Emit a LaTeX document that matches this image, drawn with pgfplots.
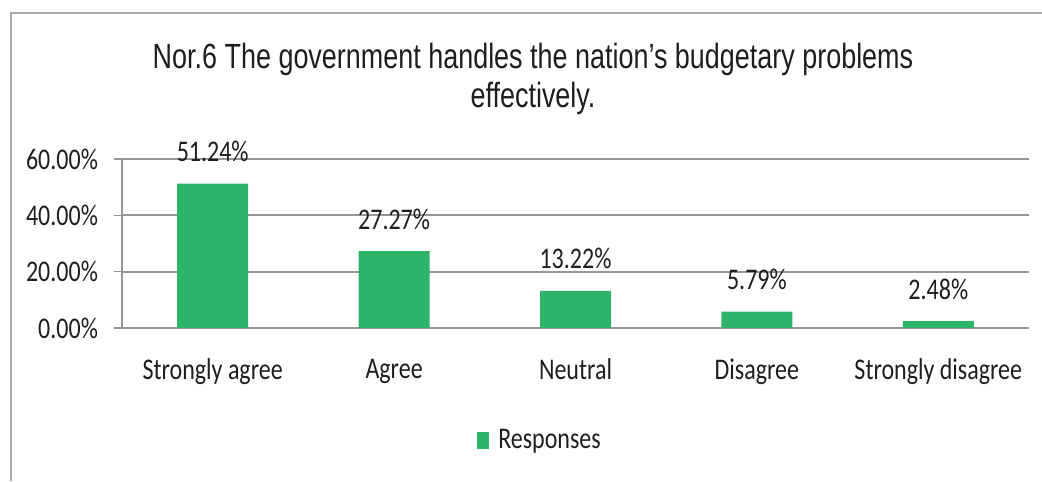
\documentclass[border=0pt]{standalone}
\usepackage{fontspec}
\setmainfont{Carlito}[FakeStretch=0.8]
\newfontfamily\titlefont{Liberation Sans}[FakeStretch=0.77]
\usepackage{pgfplots}
\pgfplotsset{compat=1.18}
\definecolor{bargreen}{RGB}{45,180,104}
\definecolor{gridgray}{RGB}{150,150,150}
\definecolor{txt}{RGB}{30,30,30}
\begin{document}
\begin{tikzpicture}
\path[use as bounding box] (0,0) rectangle (521pt,240.5pt);
\draw[gridgray!80, line width=1.2pt] (5.5pt,0) -- (5.5pt,234pt) -- (521pt,234pt);
\node[font=\titlefont\fontsize{17.5}{19.5}\selectfont, text=txt, align=center, anchor=center]
  at (266.5pt,201pt) {Nor.6 The government handles the nation’s budgetary problems\\effectively.};
\begin{axis}[
  scale only axis,
  width=453.5pt, height=84.5pt,
  at={(61pt,76.5pt)}, anchor=south west,
  xmin=-0.5, xmax=4.5,
  ymin=0, ymax=60,
  axis lines=left,
  axis line style={-, gridgray, line width=0.8pt},
  ytick={0,20,40,60},
  yticklabels={0.00\%,20.00\%,40.00\%,60.00\%},
  ymajorgrids,
  grid style={gridgray, line width=0.9pt},
  y tick style={gridgray, line width=0.8pt},
  major tick length=4pt,
  tick align=outside,
  xtick={0,1,2,3,4},
  xticklabels={Strongly agree,Agree,Neutral,Disagree,Strongly disagree},
  x tick style={draw=none},
  extra x ticks={-0.5,0.5,1.5,2.5,3.5,4.5},
  extra x tick labels={},
  extra x tick style={grid=none, tick style={draw=gridgray, line width=0.8pt}},
  tick label style={font=\fontsize{15}{18}\selectfont, text=txt},
  x tick label style={yshift=-8pt},
  y tick label style={xshift=-4.5pt},
  ybar,
  bar width=35.5pt,
  point meta=explicit symbolic,
  nodes near coords,
  nodes near coords style={font=\fontsize{15}{18}\selectfont, text=txt, anchor=base, inner sep=0pt, yshift=11pt},
  legend style={at={(0.4620,-0.663)}, anchor=center, draw=none, fill=none,
    font=\fontsize{15}{18}\selectfont, text=txt, inner sep=0pt,
    /tikz/every even column/.append style={column sep=0pt}},
  legend cell align=left,
  clip=false,
]
\addplot[fill=bargreen, draw=none,
  legend image code/.code={\fill[bargreen] (0pt,-4.25pt) rectangle (6pt,4.25pt);}]
  coordinates {(0,51.24) [51.24\%] (1,27.27) [27.27\%] (2,13.22) [13.22\%] (3,5.79) [5.79\%] (4,2.48) [2.48\%]};
\addlegendentry{\hspace{2.5pt}Responses}
\end{axis}
\end{tikzpicture}
\end{document}
